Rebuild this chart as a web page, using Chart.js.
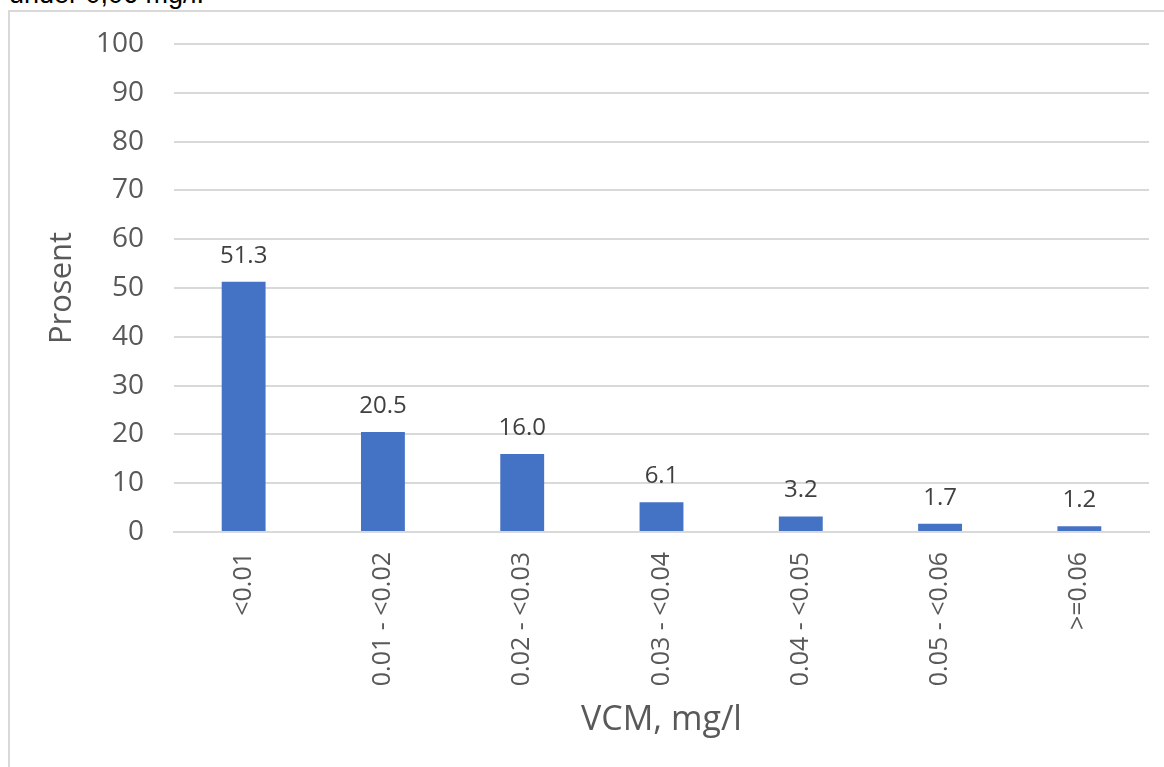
<!DOCTYPE html>
<html>
<head>
<meta charset="utf-8">
<script src="https://cdn.jsdelivr.net/npm/chart.js@4"></script>
<style>
  body { margin: 0; background: #fff; overflow: hidden; }
  #caption { position: absolute; left: 9px; top: -19px; font: 27px/27px "Liberation Sans", Arial, sans-serif; color: #000; white-space: nowrap; }
  #frame { position: absolute; left: 8px; top: 10px; width: 1200px; height: 800px; border: 2px solid #d9d9d9; box-sizing: border-box; }
  #wrap { position: absolute; left: 0; top: 0; width: 1164px; height: 767px; }
</style>
</head>
<body>
<div id="caption">under 0,06 mg/l.</div>
<div id="frame"></div>
<div id="wrap"><canvas id="chart"></canvas></div>
<script>
const categories = ["<0.01", "0.01 - <0.02", "0.02 - <0.03", "0.03 - <0.04", "0.04 - <0.05", "0.05 - <0.06", ">=0.06"];
const percentValues = [51.3, 20.5, 16.0, 6.1, 3.2, 1.7, 1.2];
const yTicks = [0, 10, 20, 30, 40, 50, 60, 70, 80, 90, 100];

const fontFamily = '"Open Sans", "Noto Sans", sans-serif';

// writes the value over each bar
const valueLabels = {
  id: "valueLabels",
  afterDatasetsDraw(chart) {
    const ctx = chart.ctx;
    const meta = chart.getDatasetMeta(0);
    ctx.save();
    ctx.font = "24px " + fontFamily;
    ctx.fillStyle = "#404040";
    ctx.textAlign = "center";
    ctx.textBaseline = "alphabetic";
    meta.data.forEach((bar, i) => {
      ctx.fillText(percentValues[i].toFixed(1), bar.x, bar.y - 19);
    });
    ctx.restore();
  }
};

new Chart(document.getElementById("chart"), {
  type: "bar",
  data: {
    labels: categories,
    datasets: [{
      data: percentValues,
      backgroundColor: "#4472C4",
      barPercentage: 0.63,
      categoryPercentage: 0.5
    }]
  },
  options: {
    responsive: true,
    maintainAspectRatio: false,
    animation: false,
    layout: { padding: { top: 42, right: 15, left: 0, bottom: 0 } },
    plugins: { legend: { display: false }, tooltip: { enabled: false } },
    scales: {
      x: {
        grid: { display: false },
        border: { color: "#d9d9d9", width: 2 },
        ticks: {
          color: "#595959",
          font: { family: fontFamily, size: 25 },
          minRotation: 90,
          maxRotation: 90,
          padding: 12
        },
        title: {
          display: true,
          text: "VCM, mg/l",
          color: "#595959",
          font: { family: fontFamily, size: 34 },
          padding: { top: 0, bottom: 26 }
        },
        afterFit(scale) { scale.height = 235; }
      },
      y: {
        min: 0,
        max: 100,
        afterBuildTicks(scale) { scale.ticks = yTicks.map(v => ({ value: v })); },
        grid: { color: "#d9d9d9", lineWidth: 2, drawTicks: false },
        border: { display: false },
        ticks: {
          color: "#595959",
          font: { family: fontFamily, size: 28, lineHeight: 1 },
          padding: 30
        },
        title: {
          display: true,
          text: "Prosent",
          color: "#595959",
          font: { family: fontFamily, size: 31 },
          padding: { top: 44, bottom: 0 }
        },
        afterFit(scale) { scale.width = 174; }
      }
    }
  },
  plugins: [valueLabels]
});
</script>
</body>
</html>
